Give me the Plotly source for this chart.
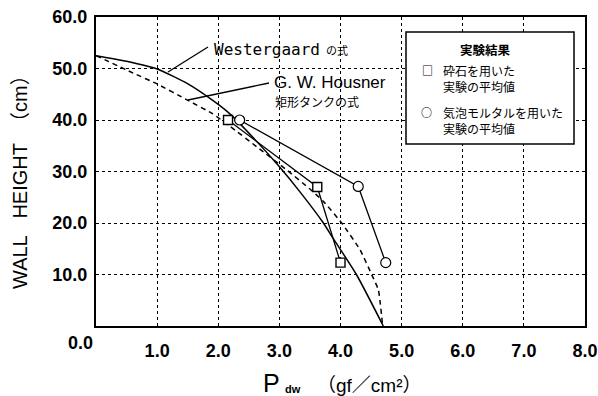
import plotly.graph_objects as go

# ---- data ----
west_x = [0.0, 0.5, 1.0, 1.49, 1.91, 2.19, 2.57, 2.98, 3.34, 3.72, 3.88, 4.26, 4.70]
west_y = [52.5, 51.4, 49.9, 47.1, 43.8, 41.2, 36.6, 31.2, 26.0, 20.0, 17.0, 10.0, 0.0]

hous_x = [0.0, 0.61, 1.0, 1.49, 1.91, 2.19, 2.63, 3.12, 3.50, 3.72, 4.02, 4.32, 4.51, 4.62, 4.69]
hous_y = [52.5, 49.1, 47.0, 43.9, 41.2, 38.8, 34.8, 30.3, 26.6, 24.2, 20.0, 14.8, 10.0, 7.0, 0.0]

stone_x = [2.16, 3.62, 4.00]
stone_y = [40.0, 27.0, 12.3]

mortar_x = [2.35, 4.29, 4.74]
mortar_y = [40.0, 27.1, 12.3]

x_ticks = [1, 2, 3, 4, 5, 6, 7, 8]
x_ticktext = ["1.0", "2.0", "3.0", "4.0", "5.0", "6.0", "7.0", "8.0"]
y_ticks = [10, 20, 30, 40, 50, 60]
y_ticktext = ["10.0", "20.0", "30.0", "40.0", "50.0", "60.0"]

# ---- layout helpers (pixel -> paper) ----
W, H = 598, 396
PL, PR, PT, PB = 96, 585, 17, 326


def px(x):
    return (x - PL) / (PR - PL)


def py(y):
    return (PB - y) / (PB - PT)


TICKFAMILY = "Liberation Sans, Arial, sans-serif"
TICKFONT = dict(family=TICKFAMILY, size=18, color="black", weight="bold")
JP = "Noto Sans CJK JP"

fig = go.Figure()
fig.add_trace(go.Scatter(x=west_x, y=west_y, mode="lines",
                         line=dict(color="black", width=1.5, shape="spline", smoothing=0.6),
                         showlegend=False, hoverinfo="skip"))
fig.add_trace(go.Scatter(x=hous_x, y=hous_y, mode="lines",
                         line=dict(color="black", width=1.5, dash="5px,4px", shape="spline", smoothing=0.4),
                         showlegend=False, hoverinfo="skip"))
fig.add_trace(go.Scatter(x=stone_x, y=stone_y, mode="lines+markers", line=dict(color="black", width=1.3),
                         marker=dict(symbol="square", size=9, color="white", line=dict(color="black", width=1.4)),
                         showlegend=False))
fig.add_trace(go.Scatter(x=mortar_x, y=mortar_y, mode="lines+markers", line=dict(color="black", width=1.3),
                         marker=dict(symbol="circle", size=10, color="white", line=dict(color="black", width=1.2)),
                         showlegend=False))

ann = []


def A(text, x, y, size, family=JP, xanchor="left", yanchor="middle", weight="normal", angle=0, align="left"):
    ann.append(dict(text=text, x=px(x), y=py(y), xref="paper", yref="paper", showarrow=False,
                    xanchor=xanchor, yanchor=yanchor, textangle=angle, align=align,
                    font=dict(family=family, size=size, color="black", weight=weight)))


# axis titles
A("WALL\u00a0\u00a0\u00a0HEIGHT\u00a0\u00a0（cm）", 20, 177, 20, family="Liberation Sans, " + JP,
  xanchor="center", angle=-90)
A("P", 282, 383, 25, family="Liberation Sans", xanchor="right")
A("dw", 283, 389, 11, family="Liberation Sans", xanchor="left", weight="bold")
A("（gf／cm²）", 369, 385, 19, family="Liberation Sans, " + JP, xanchor="center")
# origin label
A("0.0", 80, 343, 18, family=TICKFAMILY, xanchor="center", weight="bold")

# curve labels
A("Westergaard", 212, 49, 16, family="DejaVu Sans Mono")
A("の式", 324, 50, 11)
A("G. W. Housner", 272, 82.5, 17, family="Liberation Sans")
A("矩形タンクの式", 273, 101, 12)

# legend box contents
A("実験結果", 485, 50, 12.5, xanchor="center", weight="bold")
A("□", 427, 70, 11, xanchor="center", weight="bold")
A("砕石を用いた<br>実験の平均値", 441, 78.5, 12)
A("○", 426, 112, 11, xanchor="center", weight="bold")
A("気泡モルタルを用いた<br>実験の平均値", 441, 120, 12)

shapes = [
    dict(type="rect", xref="paper", yref="paper", x0=px(406), x1=px(574), y0=py(144), y1=py(32),
         fillcolor="white", line=dict(color="black", width=1.5), layer="above"),
    dict(type="line", xref="paper", yref="paper", x0=px(208), y0=py(47), x1=px(168), y1=py(72),
         line=dict(color="black", width=1.3)),
    dict(type="line", xref="paper", yref="paper", x0=px(269), y0=py(83), x1=px(188), y1=py(100),
         line=dict(color="black", width=1.3)),
]

fig.update_layout(
    width=W, height=H, autosize=False,
    margin=dict(l=PL, r=W - PR, t=PT, b=H - PB, autoexpand=False),
    paper_bgcolor="white", plot_bgcolor="white",
    annotations=ann, shapes=shapes,
    xaxis=dict(range=[0, 8], tickvals=x_ticks, ticktext=x_ticktext, tickfont=TICKFONT,
               showline=True, linecolor="black", linewidth=2, mirror=True,
               showgrid=True, gridcolor="black", gridwidth=1, griddash="dot",
               zeroline=False, ticks="", ticklabelshift=0, ticklabelstandoff=7,
               ticklabeloverflow="allow", automargin=False),
    yaxis=dict(range=[0, 60], tickvals=y_ticks, ticktext=y_ticktext, tickfont=TICKFONT,
               showline=True, linecolor="black", linewidth=2, mirror=True,
               showgrid=True, gridcolor="black", gridwidth=1, griddash="dot",
               zeroline=False, ticks="", ticklabelstandoff=3, ticklabeloverflow="allow",
               automargin=False),
)

fig.write_html("out.html")
